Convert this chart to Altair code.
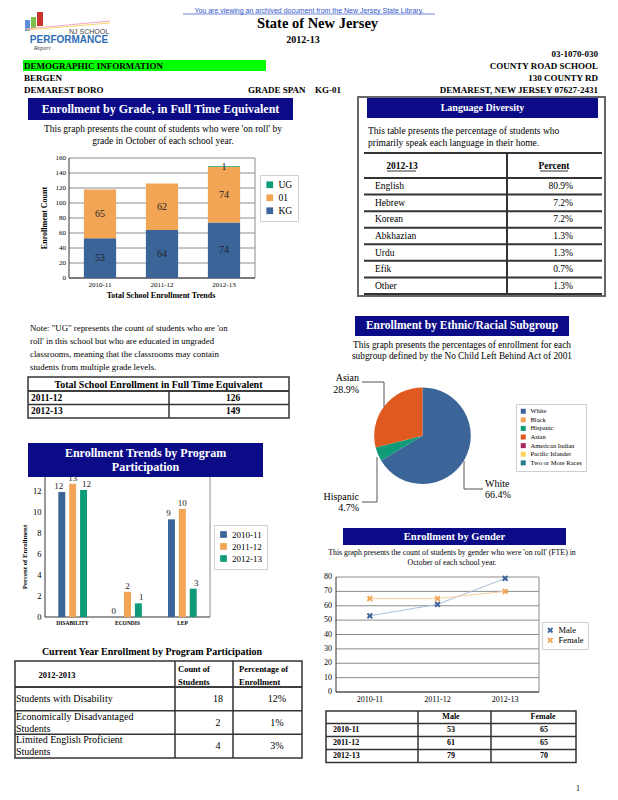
import math
import altair as alt
import pandas as pd

# ---------------- data ----------------
grade_years = ["2010-11", "2011-12", "2012-13"]
grade_levels = ["UG", "01", "KG"]
grade_kg = [53, 64, 74]
grade_01 = [65, 62, 74]
grade_ug = [0, 0, 1]
grade_ticks = [0, 20, 40, 60, 80, 100, 120, 140, 160]

lang_names = ["English", "Hebrew", "Korean", "Abkhazian", "Urdu", "Efik", "Other"]
lang_pct = [80.9, 7.2, 7.2, 1.3, 1.3, 0.7, 1.3]

total_years = ["2011-12", "2012-13"]
total_counts = [126, 149]

prog_cats = ["DISABILITY", "ECONDIS", "LEP"]
prog_years = ["2010-11", "2011-12", "2012-13"]
prog_2010_11 = [11.9, 0.0, 9.3]
prog_2011_12 = [12.7, 2.4, 10.3]
prog_2012_13 = [12.1, 1.3, 2.7]
prog_ticks = [0, 2, 4, 6, 8, 10, 12]

eth_groups = ["White", "Black", "Hispanic", "Asian", "American Indian",
              "Pacific Islander", "Two or More Races"]
eth_pct = [66.4, 0.0, 4.7, 28.9, 0.0, 0.0, 0.0]

gender_years = ["2010-11", "2011-12", "2012-13"]
gender_male = [53, 61, 79]
gender_female = [65, 65, 70]
gender_ticks = [0, 10, 20, 30, 40, 50, 60, 70, 80]

cur_programs = ["Students with Disability", "Economically Disadvantaged\nStudents",
                "Limited English Proficient\nStudents"]
cur_counts = [18, 2, 4]
cur_pct = [12, 1, 3]

# ---------------- style ----------------
W, H = 602, 784
SERIF = "Liberation Serif"
SANS = "Liberation Sans"
NAVY = "#0b0b88"
BLUE = "#3b6499"
ORANGE = "#f3a556"
GREEN = "#0f9b78"
GRID = "#8c8c8c"
DARK = "#333333"
ETH_COLORS = [BLUE, ORANGE, GREEN, "#e0591f", "#a3245e", "#fdd25a", "#2b7b91"]


def vx(p):
    return p - 8


def vy(p):
    return p - 8


one = pd.DataFrame({"k": [0]})
layers = []


def text(px, py, s, size=9.5, bold=False, align="left", color="black", font=SERIF,
         baseline="middle", angle=None, italic=False):
    kw = dict(text=s, fontSize=size, align=align, baseline=baseline, color=color, font=font)
    if bold:
        kw["fontWeight"] = "bold"
    if italic:
        kw["fontStyle"] = "italic"
    if angle is not None:
        kw["angle"] = angle
    layers.append(alt.Chart(one).mark_text(**kw).encode(x=alt.value(vx(px)), y=alt.value(vy(py))))


def rect(x1, y1, x2, y2, fill=None, stroke=None, sw=1):
    kw = {}
    if fill:
        kw["fill"] = fill
    else:
        kw["fill"] = "white"
        kw["fillOpacity"] = 0
    if stroke:
        kw["stroke"] = stroke
        kw["strokeWidth"] = sw
    layers.append(alt.Chart(one).mark_rect(**kw).encode(
        x=alt.value(vx(x1)), y=alt.value(vy(y1)), x2=alt.value(vx(x2)), y2=alt.value(vy(y2))))


def line(x1, y1, x2, y2, color=DARK, sw=1):
    layers.append(alt.Chart(one).mark_rule(color=color, strokeWidth=sw).encode(
        x=alt.value(vx(x1)), y=alt.value(vy(y1)), x2=alt.value(vx(x2)), y2=alt.value(vy(y2))))


def legend(px, py, size, symsize, rowpad, pad, stype="square"):
    return alt.Legend(orient="none", legendX=vx(px), legendY=vy(py), title=None,
                      symbolType=stype, symbolSize=symsize, labelFont=SERIF,
                      labelFontSize=size, rowPadding=rowpad, padding=pad,
                      strokeColor="#cfcfcf", fillColor="white", labelOffset=4,
                      symbolStrokeWidth=0)


# ---------------- header ----------------
text(309, 7.3, "You are viewing an archived document from the New Jersey State Library.",
     7, font=SANS, color="#3355cc", align="center", baseline="top")
line(183, 14, 435, 14, "#3355cc", 0.7)
rect(25, 20, 30, 31, fill="#5b8fd6")
rect(31, 17, 36, 28, fill="#7cc24a")
rect(37, 12, 43, 26, fill="#c8332b")
line(25, 29, 110, 21, "#f4a7c0", 1)
line(27, 30, 110, 23, "#f7d96b", 1)
text(89, 31.5, "NJ SCHOOL", 7, font=SANS, color="#444444", align="center")
text(69, 40, "PERFORMANCE", 10, bold=True, font=SANS, color="#2f6db5", align="center")
text(34, 47.5, "Report", 6, italic=True, color="#444444")

text(317.5, 24, "State of New Jersey", 14.5, bold=True, align="center")
text(303, 39.5, "2012-13", 10, bold=True, align="center")
text(598, 54, "03-1070-030", 9, bold=True, align="right")
rect(23, 60, 266, 71, fill="#00ff00")
text(24, 66, "DEMOGRAPHIC INFORMATION", 9, bold=True)
text(598, 66, "COUNTY ROAD SCHOOL", 9, bold=True, align="right")
text(24, 78, "BERGEN", 9, bold=True)
text(598, 78, "130 COUNTY RD", 9, bold=True, align="right")
text(24, 90, "DEMAREST BORO", 9, bold=True)
text(248, 90, "GRADE SPAN", 9, bold=True)
text(315, 90, "KG-01", 9, bold=True)
text(598, 90, "DEMAREST, NEW JERSEY 07627-2431", 9, bold=True, align="right")

# ---------------- enrollment by grade ----------------
rect(28, 98, 293, 120, fill=NAVY)
text(160.5, 109, "Enrollment by Grade, in Full Time Equivalent", 12, bold=True,
     color="white", align="center")
text(163, 129, "This graph presents the count of students who were 'on roll' by", 9.5, align="center")
text(163, 141, "grade in October of each school year.", 9.5, align="center")

gxs = alt.Scale(domain=grade_years, range=[vx(69), vx(255)], paddingInner=0.48, paddingOuter=0.24)
gys = alt.Scale(domain=[0, 160], range=[vy(278), vy(158)], nice=False)
gt = pd.DataFrame({"t": grade_ticks})
layers.append(alt.Chart(gt).mark_rule(color=GRID, strokeWidth=1).encode(
    y=alt.Y("t:Q", scale=gys, axis=None), x=alt.value(vx(69)), x2=alt.value(vx(255))))
line(255, 158, 255, 278, GRID)
line(69, 158, 69, 278, DARK)
line(69, 278, 255, 278, DARK)
layers.append(alt.Chart(gt).mark_text(align="right", baseline="middle", fontSize=7, font=SERIF).encode(
    y=alt.Y("t:Q", scale=gys, axis=None), x=alt.value(vx(66)), text="t:Q"))

gdf = pd.DataFrame({
    "year": grade_years * 3,
    "grade": ["KG"] * 3 + ["01"] * 3 + ["UG"] * 3,
    "count": grade_kg + grade_01 + grade_ug,
    "ord": [0] * 3 + [1] * 3 + [2] * 3,
})
gbase = alt.Chart(gdf).transform_stack(
    stack="count", groupby=["year"], sort=[alt.SortField("ord", order="ascending")], as_=["y0", "y1"]
).transform_calculate(mid="(datum.y0 + datum.y1) / 2")
layers.append(gbase.mark_bar().encode(
    x=alt.X("year:N", scale=gxs, axis=None),
    y=alt.Y("y0:Q", scale=gys, axis=None), y2="y1:Q",
    color=alt.Color("grade:N", scale=alt.Scale(domain=grade_levels, range=[GREEN, ORANGE, BLUE]),
                    legend=legend(260, 175, 9.5, 45, 2, 5))))
layers.append(gbase.transform_filter("datum.count > 0").mark_text(fontSize=10, font=SERIF, color="#222222").encode(
    x=alt.X("year:N", scale=gxs, axis=None),
    y=alt.Y("mid:Q", scale=gys, axis=None), text="count:Q"))
layers.append(alt.Chart(pd.DataFrame({"year": grade_years})).mark_text(fontSize=7, font=SERIF).encode(
    x=alt.X("year:N", scale=gxs, axis=None), y=alt.value(vy(285)), text="year:N"))
text(161, 296, "Total School Enrollment Trends", 8, bold=True, align="center")
text(45, 218, "Enrollment Count", 8, bold=True, align="center", angle=270)

# ---------------- language diversity ----------------
rect(358, 97, 605, 296, stroke="#666666", sw=2)
rect(367, 98, 598, 118, fill=NAVY)
text(482.5, 108, "Language Diversity", 10, bold=True, color="white", align="center")
text(368, 131, "This table presents the percentage of students who", 9.5)
text(368, 143, "primarily speak each language in their home.", 9.5)
line(364, 153, 602, 153, DARK, 2)
line(507, 153, 507, 294, DARK, 2)
text(402, 166, "2012-13", 9.5, bold=True, align="center")
line(387, 171, 416, 171, "black", 0.8)
text(554, 166, "Percent", 9.5, bold=True, align="center")
line(540, 171, 568, 171, "black", 0.8)
lys = alt.Scale(domain=lang_names, range=[vy(178), vy(294)], paddingInner=0, paddingOuter=0)
ldf = pd.DataFrame({"name": lang_names, "pct": lang_pct})
layers.append(alt.Chart(ldf).mark_rule(color=DARK, strokeWidth=2).encode(
    y=alt.Y("name:N", scale=lys, axis=None, bandPosition=0), x=alt.value(vx(364)), x2=alt.value(vx(602))))
line(364, 294, 602, 294, DARK, 2)
layers.append(alt.Chart(ldf).mark_text(fontSize=9.5, font=SERIF, align="left").encode(
    y=alt.Y("name:N", scale=lys, axis=None), x=alt.value(vx(375)), text="name:N"))
layers.append(alt.Chart(ldf).transform_calculate(lab="format(datum.pct, '.1f') + '%'").mark_text(
    fontSize=9.5, font=SERIF, align="right").encode(
    y=alt.Y("name:N", scale=lys, axis=None), x=alt.value(vx(573)), text="lab:N"))

# ---------------- note + total table ----------------
text(30, 328, "Note: \"UG\" represents the count of students who are 'on", 8.8)
text(30, 341, "roll' in this school but who are educated in ungraded", 8.8)
text(30, 354, "classrooms, meaning that the classrooms may contain", 8.8)
text(30, 367, "students from multiple grade levels.", 8.8)
rect(28, 377, 289, 418, stroke=DARK, sw=1.5)
line(28, 391, 289, 391, DARK, 1.5)
line(169, 391, 169, 418, DARK, 1.5)
text(158.5, 385, "Total School Enrollment in Full Time Equivalent", 10, bold=True, align="center")
tys = alt.Scale(domain=total_years, range=[vy(391), vy(418)], paddingInner=0, paddingOuter=0)
tdf = pd.DataFrame({"year": total_years, "n": total_counts})
layers.append(alt.Chart(tdf).mark_rule(color=DARK, strokeWidth=1.5).encode(
    y=alt.Y("year:N", scale=tys, axis=None, bandPosition=0), x=alt.value(vx(28)), x2=alt.value(vx(289))))
layers.append(alt.Chart(tdf).mark_text(fontSize=9.5, font=SERIF, fontWeight="bold", align="left").encode(
    y=alt.Y("year:N", scale=tys, axis=None), x=alt.value(vx(31)), text="year:N"))
layers.append(alt.Chart(tdf).mark_text(fontSize=9.5, font=SERIF, fontWeight="bold", align="center").encode(
    y=alt.Y("year:N", scale=tys, axis=None), x=alt.value(vx(233)), text="n:Q"))

# ---------------- program participation chart ----------------
pxs = alt.Scale(domain=prog_cats, range=[vx(45), vx(210)], paddingInner=0.405, paddingOuter=0.207)
pos = alt.Scale(domain=prog_years, paddingInner=0.36, paddingOuter=0.18)
pys = alt.Scale(domain=[0, 14], range=[vy(617), vy(470)], nice=False)
line(210, 470, 210, 617, GRID)
line(45, 470, 45, 617, DARK)
line(45, 617, 210, 617, DARK)
pt = pd.DataFrame({"t": prog_ticks})
layers.append(alt.Chart(pt).mark_text(align="right", baseline="middle", fontSize=8.5, font=SERIF).encode(
    y=alt.Y("t:Q", scale=pys, axis=None), x=alt.value(vx(41.5)), text="t:Q"))
pdf = pd.DataFrame({
    "cat": prog_cats * 3,
    "year": [prog_years[0]] * 3 + [prog_years[1]] * 3 + [prog_years[2]] * 3,
    "value": prog_2010_11 + prog_2011_12 + prog_2012_13,
})
layers.append(alt.Chart(pdf).mark_bar().encode(
    x=alt.X("cat:N", scale=pxs, axis=None),
    xOffset=alt.XOffset("year:N", scale=pos),
    y=alt.Y("value:Q", scale=pys, axis=None),
    color=alt.Color("year:N", scale=alt.Scale(domain=prog_years, range=[BLUE, ORANGE, GREEN]),
                    legend=legend(214, 525, 9, 45, 2, 5))))
layers.append(alt.Chart(pdf).mark_text(fontSize=9, font=SERIF, dy=-6, color="#222222").encode(
    x=alt.X("cat:N", scale=pxs, axis=None),
    xOffset=alt.XOffset("year:N", scale=pos),
    y=alt.Y("value:Q", scale=pys, axis=None),
    text=alt.Text("value:Q", format=".0f")))
layers.append(alt.Chart(pd.DataFrame({"cat": prog_cats})).mark_text(
    fontSize=5.5, font=SERIF, fontWeight="bold").encode(
    x=alt.X("cat:N", scale=pxs, axis=None), y=alt.value(vy(623)), text="cat:N"))
text(25, 557, "Percent of Enrollment", 6.8, bold=True, align="center", angle=270)
rect(28, 443, 263, 477, fill=NAVY)
text(145.5, 453, "Enrollment Trends by Program", 12, bold=True, color="white", align="center")
text(145.5, 467, "Participation", 12, bold=True, color="white", align="center")

# ---------------- ethnic / racial pie ----------------
rect(355, 316, 569, 336, fill=NAVY)
text(462, 326, "Enrollment by Ethnic/Racial Subgroup", 11.5, bold=True, color="white", align="center")
text(462, 345, "This graph presents the percentages of enrollment for each", 9.3, align="center")
text(462, 356, "subgroup defined by the No Child Left Behind Act of 2001", 9.3, align="center")
edf = pd.DataFrame({"group": eth_groups, "pct": eth_pct, "ord": list(range(len(eth_groups)))})
layers.append(alt.Chart(edf).mark_arc(radius=48.3).encode(
    theta=alt.Theta("pct:Q", stack=True),
    order=alt.Order("ord:Q"),
    color=alt.Color("group:N", scale=alt.Scale(domain=eth_groups, range=ETH_COLORS),
                    legend=legend(516, 404, 6.5, 25, 1.6, 4)),
    x=alt.value(vx(422.5)), y=alt.value(vy(435.7))))
line(362, 382, 384, 382, "#555555")
line(384, 382, 384, 407, "#555555")
line(362, 502, 377, 502, "#555555")
line(377, 502, 377, 457, "#555555")
line(483, 489, 464, 489, "#555555")
line(464, 489, 464, 461, "#555555")
text(359, 378, "Asian", 10, align="right")
text(359, 390, "28.9%", 10, align="right")
text(359, 497, "Hispanic", 10, align="right")
text(359, 508, "4.7%", 10, align="right")
text(485, 484, "White", 10)
text(485, 495, "66.4%", 10)

# ---------------- gender chart ----------------
rect(343, 528, 566, 545, fill=NAVY)
text(454.5, 536.5, "Enrollment by Gender", 10.5, bold=True, color="white", align="center")
text(452, 553, "This graph presents the count of students by gender who were 'on roll' (FTE) in", 7.8, align="center")
text(452, 563, "October of each school year.", 7.8, align="center")
gx2 = alt.Scale(domain=gender_years, range=[vx(336), vx(539)], paddingInner=0, paddingOuter=0)
gy2 = alt.Scale(domain=[0, 80], range=[vy(692), vy(577)], nice=False)
gt2 = pd.DataFrame({"t": gender_ticks})
layers.append(alt.Chart(gt2).mark_rule(color=GRID, strokeWidth=1).encode(
    y=alt.Y("t:Q", scale=gy2, axis=None), x=alt.value(vx(336)), x2=alt.value(vx(539))))
line(539, 577, 539, 692, GRID)
line(336, 577, 336, 692, DARK)
line(336, 692, 539, 692, DARK)
layers.append(alt.Chart(gt2).mark_text(align="right", baseline="middle", fontSize=8, font=SERIF).encode(
    y=alt.Y("t:Q", scale=gy2, axis=None), x=alt.value(vx(332)), text="t:Q"))
layers.append(alt.Chart(pd.DataFrame({"year": gender_years})).mark_text(fontSize=8, font=SERIF).encode(
    x=alt.X("year:N", scale=gx2, axis=None), y=alt.value(vy(700)), text="year:N"))

w = 0.3
c = math.sqrt(0.5)
base_pts = [(-1, -w), (-w, -w), (-w, -1), (w, -1), (w, -w), (1, -w), (1, w), (w, w),
            (w, 1), (-w, 1), (-w, w), (-1, w)]
XPATH = "M" + "L".join(f"{(x - y) * c:.3f},{(x + y) * c:.3f}" for x, y in base_pts) + "Z"

sdf = pd.DataFrame({
    "year": gender_years * 2,
    "sex": ["Male"] * 3 + ["Female"] * 3,
    "n": gender_male + gender_female,
})
layers.append(alt.Chart(sdf).mark_line(strokeWidth=1).encode(
    x=alt.X("year:N", scale=gx2, axis=None),
    y=alt.Y("n:Q", scale=gy2, axis=None),
    color=alt.Color("sex:N", scale=alt.Scale(domain=["Male", "Female"], range=["#a9bedc", "#f8cfa0"]),
                    legend=None)))
layers.append(alt.Chart(sdf).mark_point(shape=XPATH, filled=True, size=45, opacity=1).encode(
    x=alt.X("year:N", scale=gx2, axis=None),
    y=alt.Y("n:Q", scale=gy2, axis=None),
    color=alt.Color("sex:N", scale=alt.Scale(domain=["Male", "Female"], range=[BLUE, ORANGE]),
                    legend=legend(542, 622, 8.5, 40, 1, 4, stype=XPATH))))

# gender table
rect(326, 711, 576, 762.5, stroke=DARK, sw=1.5)
line(418, 711, 418, 762.5, DARK, 1.5)
line(491, 711, 491, 762.5, DARK, 1.5)
text(451, 717, "Male", 8, bold=True, align="center")
text(543, 717, "Female", 8, bold=True, align="center")
gty = alt.Scale(domain=gender_years, range=[vy(723.5), vy(762.5)], paddingInner=0, paddingOuter=0)
gtd = pd.DataFrame({"year": gender_years, "m": gender_male, "f": gender_female})
layers.append(alt.Chart(gtd).mark_rule(color=DARK, strokeWidth=1.5).encode(
    y=alt.Y("year:N", scale=gty, axis=None, bandPosition=0), x=alt.value(vx(326)), x2=alt.value(vx(576))))
layers.append(alt.Chart(gtd).mark_text(fontSize=8, font=SERIF, fontWeight="bold", align="left").encode(
    y=alt.Y("year:N", scale=gty, axis=None), x=alt.value(vx(333)), text="year:N"))
layers.append(alt.Chart(gtd).mark_text(fontSize=8, font=SERIF, fontWeight="bold").encode(
    y=alt.Y("year:N", scale=gty, axis=None), x=alt.value(vx(451)), text="m:Q"))
layers.append(alt.Chart(gtd).mark_text(fontSize=8, font=SERIF, fontWeight="bold").encode(
    y=alt.Y("year:N", scale=gty, axis=None), x=alt.value(vx(544)), text="f:Q"))

# ---------------- current year program table ----------------
text(152, 652, "Current Year Enrollment by Program Participation", 10, bold=True, align="center")
rect(15, 661, 302, 758, stroke=DARK, sw=1.5)
line(15, 687, 302, 687, DARK, 1.5)
line(175, 661, 175, 758, DARK, 1.5)
line(233, 661, 233, 758, DARK, 1.5)
text(57, 675, "2012-2013", 8.5, bold=True, align="center")
text(178, 669, "Count of", 8.5, bold=True)
text(178, 682, "Students", 8.5, bold=True)
text(239, 669, "Percentage of", 8.5, bold=True)
text(239, 682, "Enrollment", 8.5, bold=True)
cys = alt.Scale(domain=cur_programs, range=[vy(687), vy(758)], paddingInner=0, paddingOuter=0)
cdf = pd.DataFrame({"prog": cur_programs, "n": cur_counts, "p": cur_pct})
layers.append(alt.Chart(cdf).mark_rule(color=DARK, strokeWidth=1.5).encode(
    y=alt.Y("prog:N", scale=cys, axis=None, bandPosition=0), x=alt.value(vx(15)), x2=alt.value(vx(302))))
cbase = alt.Chart(cdf).transform_calculate(
    parts="split(datum.prog, '\\n')"
).transform_calculate(
    nl="length(datum.parts)", l0="datum.parts[0]", l1="length(datum.parts) > 1 ? datum.parts[1] : ''"
)
layers.append(cbase.transform_filter("datum.nl == 1").mark_text(fontSize=10, font=SERIF, align="left").encode(
    y=alt.Y("prog:N", scale=cys, axis=None), x=alt.value(vx(16)), text="l0:N"))
layers.append(cbase.transform_filter("datum.nl > 1").mark_text(fontSize=10, font=SERIF, align="left", dy=-6).encode(
    y=alt.Y("prog:N", scale=cys, axis=None), x=alt.value(vx(16)), text="l0:N"))
layers.append(cbase.transform_filter("datum.nl > 1").mark_text(fontSize=10, font=SERIF, align="left", dy=6).encode(
    y=alt.Y("prog:N", scale=cys, axis=None), x=alt.value(vx(16)), text="l1:N"))
layers.append(alt.Chart(cdf).mark_text(fontSize=10, font=SERIF).encode(
    y=alt.Y("prog:N", scale=cys, axis=None), x=alt.value(vx(218)), text="n:Q"))
layers.append(alt.Chart(cdf).transform_calculate(lab="datum.p + '%'").mark_text(fontSize=10, font=SERIF).encode(
    y=alt.Y("prog:N", scale=cys, axis=None), x=alt.value(vx(277)), text="lab:N"))

text(578, 789, "1", 8, align="center")

chart = alt.layer(*layers).resolve_scale(
    x="independent", y="independent", color="independent", xOffset="independent", theta="independent"
).properties(
    width=W, height=H, padding=0, autosize=alt.AutoSizeParams(type="none")
).configure_view(stroke=None)

chart.save("out.html", embed_options={"renderer": "svg", "actions": False})
